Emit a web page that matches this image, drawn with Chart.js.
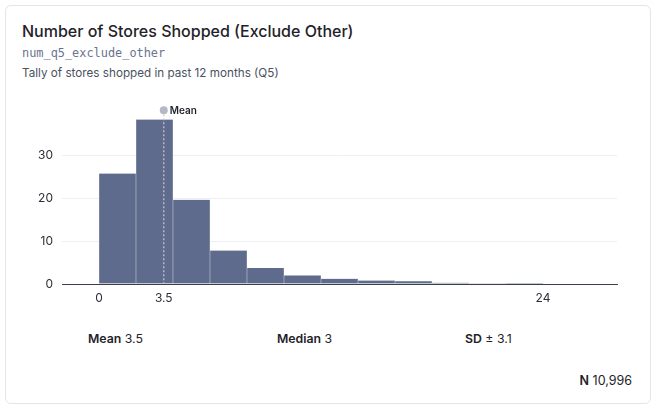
<!DOCTYPE html>
<html>
<head>
<meta charset="utf-8">
<script src="https://cdn.jsdelivr.net/npm/chart.js@4/dist/chart.umd.min.js"></script>
<style>
  html, body { margin: 0; padding: 0; background: #fff; }
  body { width: 658px; height: 411px; position: relative; font-family: Inter, "Noto Sans", sans-serif; color: #1f2329; }
  .card { position: absolute; left: 5px; top: 5px; width: 646px; height: 399px; border: 1px solid #e3e5ea; border-radius: 6px; box-sizing: border-box; }
  .title { position: absolute; left: 22px; top: 21px; font-size: 16px; font-weight: 500; }
  .varname { position: absolute; left: 22px; top: 46px; font-family: "DejaVu Sans Mono", monospace; font-size: 11.9px; color: #6b7390; }
  .sub { position: absolute; left: 22px; top: 66px; font-size: 11.7px; color: #4a5160; }
  .chart { position: absolute; left: 20px; top: 96px; width: 620px; height: 214px; }
  .stat { position: absolute; top: 331px; font-size: 12.3px; color: #1f2329; }
  .stat b { font-weight: 600; }
  .n { position: absolute; top: 373px; right: 26px; font-size: 12.5px; }
  .n b { font-weight: 600; }
</style>
</head>
<body>
<div class="card"></div>
<div class="title">Number of Stores Shopped (Exclude Other)</div>
<div class="varname">num_q5_exclude_other</div>
<div class="sub">Tally of stores shopped in past 12 months (Q5)</div>
<div class="chart"><canvas id="hist"></canvas></div>
<div class="stat" style="left:88px"><b>Mean</b> 3.5</div>
<div class="stat" style="left:277px"><b>Median</b> 3</div>
<div class="stat" style="left:465px"><b>SD</b> ± 3.1</div>
<div class="n"><b>N</b> 10,996</div>
<script>
// histogram bins (width 2), percent of respondents
const binCenters = [1, 3, 5, 7, 9, 11, 13, 15, 17, 19, 21, 23];
const binPercents = [25.7, 38.3, 19.6, 7.8, 3.7, 2.0, 1.2, 0.8, 0.65, 0.3, 0.05, 0.22];
const xTicks = [0, 3.5, 24];
const xTickLabels = ['0', '3.5', '24'];
const yTicks = [0, 10, 20, 30];
const meanValue = 3.5;

const meanLine = {
  id: 'meanLine',
  afterDatasetsDraw(chart) {
    const ctx = chart.ctx;
    const x = chart.scales.x.getPixelForValue(meanValue);
    const top = chart.chartArea.top - 2;
    const bottom = chart.chartArea.bottom;
    ctx.save();
    ctx.strokeStyle = '#c9cdd8';
    ctx.lineWidth = 1.2;
    ctx.setLineDash([2, 2]);
    ctx.beginPath();
    ctx.moveTo(x, top);
    ctx.lineTo(x, bottom);
    ctx.stroke();
    ctx.setLineDash([]);
    ctx.fillStyle = '#b4b9c7';
    ctx.beginPath();
    ctx.arc(x, top, 4, 0, Math.PI * 2);
    ctx.fill();
    ctx.fillStyle = '#1f2329';
    ctx.font = '600 10px Inter, sans-serif';
    ctx.textBaseline = 'middle';
    ctx.fillText('Mean', x + 6, top + 0.5);
    ctx.restore();
  }
};

new Chart(document.getElementById('hist'), {
  type: 'bar',
  data: {
    datasets: [{
      data: binCenters.map((c, i) => ({ x: c, y: binPercents[i] })),
      backgroundColor: '#5f6b8c',
      borderColor: 'rgba(255,255,255,0.35)',
      borderWidth: { left: 0.5, right: 0.5, top: 0, bottom: 0 },
      barPercentage: 1,
      categoryPercentage: 1,
      grouped: false
    }]
  },
  options: {
    responsive: true,
    maintainAspectRatio: false,
    animation: false,
    layout: { padding: { top: 8, right: 23, left: 0, bottom: 0 } },
    plugins: { legend: { display: false }, tooltip: { enabled: false } },
    scales: {
      x: {
        type: 'linear',
        min: -2,
        max: 28,
        offset: false,
        grid: { display: false, drawTicks: false },
        border: { display: true, color: '#3a3f4a', width: 1 },
        afterBuildTicks(axis) { axis.ticks = xTicks.map(v => ({ value: v })); },
        afterFit(axis) { axis.height = 26; },
        ticks: {
          padding: 7,
          maxRotation: 0,
          autoSkip: false,
          color: '#2b2f38',
          font: { family: 'Inter', size: 12 },
          callback: (v) => xTickLabels[xTicks.indexOf(v)] ?? ''
        }
      },
      y: {
        min: 0,
        max: 40,
        afterBuildTicks(axis) { axis.ticks = yTicks.map(v => ({ value: v })); },
        afterFit(axis) { axis.width = 42; },
        grid: {
          color: (c) => c.tick && c.tick.value === 0 ? 'rgba(0,0,0,0)' : '#eeeff2',
          drawTicks: false
        },
        border: { display: false },
        ticks: {
          padding: 9,
          color: '#2b2f38',
          font: { family: 'Inter', size: 12 }
        }
      }
    }
  },
  plugins: [meanLine]
});
</script>
</body>
</html>
